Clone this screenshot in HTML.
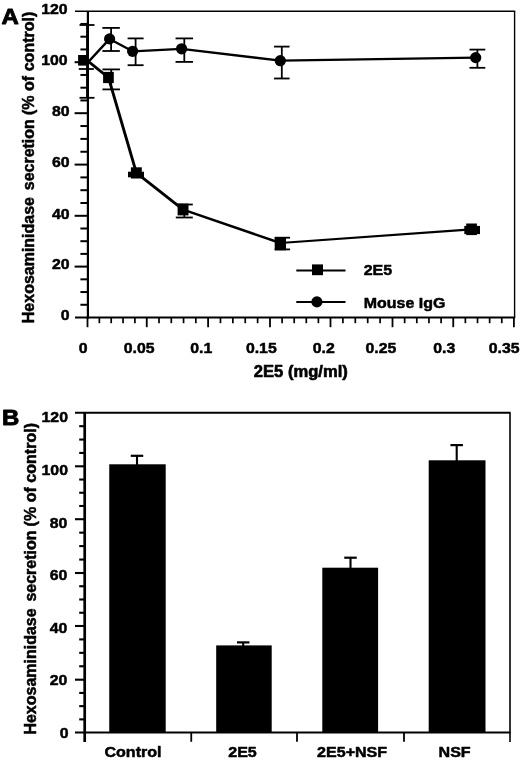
<!DOCTYPE html>
<html lang="en"><head><meta charset="utf-8"><title>Figure</title>
<style>
html,body{margin:0;padding:0;background:#fff;}
body{width:520px;height:760px;overflow:hidden;}
svg{display:block;filter:grayscale(1);}
text{font-family:"Liberation Sans",sans-serif;font-weight:bold;fill:#000;}
</style></head><body>
<svg width="520" height="760" viewBox="0 0 520 760">
<rect width="520" height="760" fill="#fff"/>
<g id="panelA">
<line x1="75.00" y1="11.20" x2="515.20" y2="11.20" stroke="#000" stroke-width="1.4" stroke-linecap="butt"/>
<line x1="514.60" y1="11.20" x2="514.60" y2="317.50" stroke="#000" stroke-width="1.4" stroke-linecap="butt"/>
<line x1="87.90" y1="11.20" x2="87.90" y2="318.40" stroke="#000" stroke-width="2.2" stroke-linecap="butt"/>
<line x1="75.00" y1="317.50" x2="515.20" y2="317.50" stroke="#000" stroke-width="1.9" stroke-linecap="butt"/>
<line x1="80.40" y1="304.77" x2="87.90" y2="304.77" stroke="#000" stroke-width="2.0" stroke-linecap="butt"/>
<line x1="80.40" y1="292.05" x2="87.90" y2="292.05" stroke="#000" stroke-width="2.0" stroke-linecap="butt"/>
<line x1="80.40" y1="279.33" x2="87.90" y2="279.33" stroke="#000" stroke-width="2.0" stroke-linecap="butt"/>
<line x1="74.60" y1="266.60" x2="87.90" y2="266.60" stroke="#000" stroke-width="2.0" stroke-linecap="butt"/>
<line x1="80.40" y1="253.90" x2="87.90" y2="253.90" stroke="#000" stroke-width="2.0" stroke-linecap="butt"/>
<line x1="80.40" y1="241.20" x2="87.90" y2="241.20" stroke="#000" stroke-width="2.0" stroke-linecap="butt"/>
<line x1="80.40" y1="228.50" x2="87.90" y2="228.50" stroke="#000" stroke-width="2.0" stroke-linecap="butt"/>
<line x1="74.60" y1="215.80" x2="87.90" y2="215.80" stroke="#000" stroke-width="2.0" stroke-linecap="butt"/>
<line x1="80.40" y1="203.00" x2="87.90" y2="203.00" stroke="#000" stroke-width="2.0" stroke-linecap="butt"/>
<line x1="80.40" y1="190.20" x2="87.90" y2="190.20" stroke="#000" stroke-width="2.0" stroke-linecap="butt"/>
<line x1="80.40" y1="177.40" x2="87.90" y2="177.40" stroke="#000" stroke-width="2.0" stroke-linecap="butt"/>
<line x1="74.60" y1="164.60" x2="87.90" y2="164.60" stroke="#000" stroke-width="2.0" stroke-linecap="butt"/>
<line x1="80.40" y1="151.75" x2="87.90" y2="151.75" stroke="#000" stroke-width="2.0" stroke-linecap="butt"/>
<line x1="80.40" y1="138.90" x2="87.90" y2="138.90" stroke="#000" stroke-width="2.0" stroke-linecap="butt"/>
<line x1="80.40" y1="126.05" x2="87.90" y2="126.05" stroke="#000" stroke-width="2.0" stroke-linecap="butt"/>
<line x1="74.60" y1="113.20" x2="87.90" y2="113.20" stroke="#000" stroke-width="2.0" stroke-linecap="butt"/>
<line x1="80.40" y1="100.45" x2="87.90" y2="100.45" stroke="#000" stroke-width="2.0" stroke-linecap="butt"/>
<line x1="80.40" y1="87.70" x2="87.90" y2="87.70" stroke="#000" stroke-width="2.0" stroke-linecap="butt"/>
<line x1="80.40" y1="74.95" x2="87.90" y2="74.95" stroke="#000" stroke-width="2.0" stroke-linecap="butt"/>
<line x1="74.60" y1="62.20" x2="87.90" y2="62.20" stroke="#000" stroke-width="2.0" stroke-linecap="butt"/>
<line x1="80.40" y1="49.45" x2="87.90" y2="49.45" stroke="#000" stroke-width="2.0" stroke-linecap="butt"/>
<line x1="80.40" y1="36.70" x2="87.90" y2="36.70" stroke="#000" stroke-width="2.0" stroke-linecap="butt"/>
<line x1="80.40" y1="23.95" x2="87.90" y2="23.95" stroke="#000" stroke-width="2.0" stroke-linecap="butt"/>
<line x1="87.50" y1="317.50" x2="87.50" y2="327.20" stroke="#000" stroke-width="1.8" stroke-linecap="butt"/>
<line x1="99.35" y1="317.50" x2="99.35" y2="323.20" stroke="#000" stroke-width="1.7" stroke-linecap="butt"/>
<line x1="111.20" y1="317.50" x2="111.20" y2="323.20" stroke="#000" stroke-width="1.7" stroke-linecap="butt"/>
<line x1="123.05" y1="317.50" x2="123.05" y2="323.20" stroke="#000" stroke-width="1.7" stroke-linecap="butt"/>
<line x1="134.90" y1="317.50" x2="134.90" y2="323.20" stroke="#000" stroke-width="1.7" stroke-linecap="butt"/>
<line x1="146.75" y1="317.50" x2="146.75" y2="327.20" stroke="#000" stroke-width="1.8" stroke-linecap="butt"/>
<line x1="159.02" y1="317.50" x2="159.02" y2="323.20" stroke="#000" stroke-width="1.7" stroke-linecap="butt"/>
<line x1="171.29" y1="317.50" x2="171.29" y2="323.20" stroke="#000" stroke-width="1.7" stroke-linecap="butt"/>
<line x1="183.56" y1="317.50" x2="183.56" y2="323.20" stroke="#000" stroke-width="1.7" stroke-linecap="butt"/>
<line x1="195.83" y1="317.50" x2="195.83" y2="323.20" stroke="#000" stroke-width="1.7" stroke-linecap="butt"/>
<line x1="208.10" y1="317.50" x2="208.10" y2="327.20" stroke="#000" stroke-width="1.8" stroke-linecap="butt"/>
<line x1="220.48" y1="317.50" x2="220.48" y2="323.20" stroke="#000" stroke-width="1.7" stroke-linecap="butt"/>
<line x1="232.86" y1="317.50" x2="232.86" y2="323.20" stroke="#000" stroke-width="1.7" stroke-linecap="butt"/>
<line x1="245.24" y1="317.50" x2="245.24" y2="323.20" stroke="#000" stroke-width="1.7" stroke-linecap="butt"/>
<line x1="257.62" y1="317.50" x2="257.62" y2="323.20" stroke="#000" stroke-width="1.7" stroke-linecap="butt"/>
<line x1="270.00" y1="317.50" x2="270.00" y2="327.20" stroke="#000" stroke-width="1.8" stroke-linecap="butt"/>
<line x1="282.10" y1="317.50" x2="282.10" y2="323.20" stroke="#000" stroke-width="1.7" stroke-linecap="butt"/>
<line x1="294.20" y1="317.50" x2="294.20" y2="323.20" stroke="#000" stroke-width="1.7" stroke-linecap="butt"/>
<line x1="306.30" y1="317.50" x2="306.30" y2="323.20" stroke="#000" stroke-width="1.7" stroke-linecap="butt"/>
<line x1="318.40" y1="317.50" x2="318.40" y2="323.20" stroke="#000" stroke-width="1.7" stroke-linecap="butt"/>
<line x1="330.50" y1="317.50" x2="330.50" y2="327.20" stroke="#000" stroke-width="1.8" stroke-linecap="butt"/>
<line x1="342.90" y1="317.50" x2="342.90" y2="323.20" stroke="#000" stroke-width="1.7" stroke-linecap="butt"/>
<line x1="355.30" y1="317.50" x2="355.30" y2="323.20" stroke="#000" stroke-width="1.7" stroke-linecap="butt"/>
<line x1="367.70" y1="317.50" x2="367.70" y2="323.20" stroke="#000" stroke-width="1.7" stroke-linecap="butt"/>
<line x1="380.10" y1="317.50" x2="380.10" y2="323.20" stroke="#000" stroke-width="1.7" stroke-linecap="butt"/>
<line x1="392.50" y1="317.50" x2="392.50" y2="327.20" stroke="#000" stroke-width="1.8" stroke-linecap="butt"/>
<line x1="404.65" y1="317.50" x2="404.65" y2="323.20" stroke="#000" stroke-width="1.7" stroke-linecap="butt"/>
<line x1="416.80" y1="317.50" x2="416.80" y2="323.20" stroke="#000" stroke-width="1.7" stroke-linecap="butt"/>
<line x1="428.95" y1="317.50" x2="428.95" y2="323.20" stroke="#000" stroke-width="1.7" stroke-linecap="butt"/>
<line x1="441.10" y1="317.50" x2="441.10" y2="323.20" stroke="#000" stroke-width="1.7" stroke-linecap="butt"/>
<line x1="453.25" y1="317.50" x2="453.25" y2="327.20" stroke="#000" stroke-width="1.8" stroke-linecap="butt"/>
<line x1="465.38" y1="317.50" x2="465.38" y2="323.20" stroke="#000" stroke-width="1.7" stroke-linecap="butt"/>
<line x1="477.51" y1="317.50" x2="477.51" y2="323.20" stroke="#000" stroke-width="1.7" stroke-linecap="butt"/>
<line x1="489.64" y1="317.50" x2="489.64" y2="323.20" stroke="#000" stroke-width="1.7" stroke-linecap="butt"/>
<line x1="501.77" y1="317.50" x2="501.77" y2="323.20" stroke="#000" stroke-width="1.7" stroke-linecap="butt"/>
<line x1="513.90" y1="317.50" x2="513.90" y2="327.20" stroke="#000" stroke-width="1.8" stroke-linecap="butt"/>
<text transform="translate(69.70,320.20) scale(1.03,1)" font-size="15.4" text-anchor="end" stroke="#000" stroke-width="0.5" stroke-linejoin="round">0</text>
<text transform="translate(69.70,269.30) scale(1.03,1)" font-size="15.4" text-anchor="end" stroke="#000" stroke-width="0.5" stroke-linejoin="round">20</text>
<text transform="translate(69.70,218.50) scale(1.03,1)" font-size="15.4" text-anchor="end" stroke="#000" stroke-width="0.5" stroke-linejoin="round">40</text>
<text transform="translate(69.70,167.30) scale(1.03,1)" font-size="15.4" text-anchor="end" stroke="#000" stroke-width="0.5" stroke-linejoin="round">60</text>
<text transform="translate(69.70,115.90) scale(1.03,1)" font-size="15.4" text-anchor="end" stroke="#000" stroke-width="0.5" stroke-linejoin="round">80</text>
<text transform="translate(67.70,64.90) scale(1.03,1)" font-size="15.4" text-anchor="end" stroke="#000" stroke-width="0.5" stroke-linejoin="round">100</text>
<text transform="translate(67.70,13.90) scale(1.03,1)" font-size="15.4" text-anchor="end" stroke="#000" stroke-width="0.5" stroke-linejoin="round">120</text>
<text transform="translate(83.05,353.40) scale(1.03,1)" font-size="15.4" text-anchor="middle" stroke="#000" stroke-width="0.5" stroke-linejoin="round">0</text>
<text transform="translate(139.20,353.40) scale(1.03,1)" font-size="15.4" text-anchor="middle" stroke="#000" stroke-width="0.5" stroke-linejoin="round">0.05</text>
<text transform="translate(201.32,353.40) scale(1.03,1)" font-size="15.4" text-anchor="middle" stroke="#000" stroke-width="0.5" stroke-linejoin="round">0.1</text>
<text transform="translate(261.32,353.40) scale(1.03,1)" font-size="15.4" text-anchor="middle" stroke="#000" stroke-width="0.5" stroke-linejoin="round">0.15</text>
<text transform="translate(323.70,353.40) scale(1.03,1)" font-size="15.4" text-anchor="middle" stroke="#000" stroke-width="0.5" stroke-linejoin="round">0.2</text>
<text transform="translate(380.95,353.40) scale(1.03,1)" font-size="15.4" text-anchor="middle" stroke="#000" stroke-width="0.5" stroke-linejoin="round">0.25</text>
<text transform="translate(444.32,353.40) scale(1.03,1)" font-size="15.4" text-anchor="middle" stroke="#000" stroke-width="0.5" stroke-linejoin="round">0.3</text>
<text transform="translate(504.20,353.40) scale(1.03,1)" font-size="15.4" text-anchor="middle" stroke="#000" stroke-width="0.5" stroke-linejoin="round">0.35</text>
<text transform="translate(300.80,377.30) scale(1.05,1)" font-size="15.8" text-anchor="middle" stroke="#000" stroke-width="0.6" stroke-linejoin="round">2E5 (mg/ml)</text>
<text transform="translate(33.7,323.20) rotate(-90)" font-size="16.1" stroke="#000" stroke-width="0.5" stroke-linejoin="round" textLength="126.2" lengthAdjust="spacingAndGlyphs">Hexosaminidase</text>
<text transform="translate(33.7,190.20) rotate(-90)" font-size="16.1" stroke="#000" stroke-width="0.5" stroke-linejoin="round" textLength="71.0" lengthAdjust="spacingAndGlyphs">secretion</text>
<text transform="translate(33.7,115.00) rotate(-90)" font-size="16.1" stroke="#000" stroke-width="0.5" stroke-linejoin="round" textLength="103.4" lengthAdjust="spacingAndGlyphs">(% of control)</text>
<text transform="translate(1.60,23.60) scale(1.07,1)" font-size="22.4" text-anchor="start" stroke="#000" stroke-width="0.9" stroke-linejoin="round">A</text>
<line x1="87.00" y1="25.00" x2="87.00" y2="97.80" stroke="#000" stroke-width="1.8" stroke-linecap="butt"/>
<line x1="79.50" y1="25.00" x2="94.50" y2="25.00" stroke="#000" stroke-width="1.8" stroke-linecap="butt"/>
<line x1="79.50" y1="97.80" x2="94.50" y2="97.80" stroke="#000" stroke-width="1.8" stroke-linecap="butt"/>
<line x1="78.80" y1="69.00" x2="93.80" y2="69.00" stroke="#000" stroke-width="1.8" stroke-linecap="butt"/>
<line x1="111.10" y1="27.90" x2="111.10" y2="51.00" stroke="#000" stroke-width="1.8" stroke-linecap="butt"/>
<line x1="102.35" y1="27.90" x2="119.85" y2="27.90" stroke="#000" stroke-width="1.8" stroke-linecap="butt"/>
<line x1="102.35" y1="51.00" x2="119.85" y2="51.00" stroke="#000" stroke-width="1.8" stroke-linecap="butt"/>
<line x1="135.60" y1="38.40" x2="135.60" y2="65.20" stroke="#000" stroke-width="1.8" stroke-linecap="butt"/>
<line x1="127.60" y1="38.40" x2="143.60" y2="38.40" stroke="#000" stroke-width="1.8" stroke-linecap="butt"/>
<line x1="127.60" y1="65.20" x2="143.60" y2="65.20" stroke="#000" stroke-width="1.8" stroke-linecap="butt"/>
<line x1="184.30" y1="38.40" x2="184.30" y2="61.90" stroke="#000" stroke-width="1.8" stroke-linecap="butt"/>
<line x1="175.55" y1="38.40" x2="193.05" y2="38.40" stroke="#000" stroke-width="1.8" stroke-linecap="butt"/>
<line x1="175.55" y1="61.90" x2="193.05" y2="61.90" stroke="#000" stroke-width="1.8" stroke-linecap="butt"/>
<line x1="281.80" y1="46.60" x2="281.80" y2="78.50" stroke="#000" stroke-width="1.8" stroke-linecap="butt"/>
<line x1="274.05" y1="46.60" x2="289.55" y2="46.60" stroke="#000" stroke-width="1.8" stroke-linecap="butt"/>
<line x1="274.05" y1="78.50" x2="289.55" y2="78.50" stroke="#000" stroke-width="1.8" stroke-linecap="butt"/>
<line x1="477.40" y1="49.60" x2="477.40" y2="67.80" stroke="#000" stroke-width="1.8" stroke-linecap="butt"/>
<line x1="469.50" y1="49.60" x2="485.30" y2="49.60" stroke="#000" stroke-width="1.8" stroke-linecap="butt"/>
<line x1="469.50" y1="67.80" x2="485.30" y2="67.80" stroke="#000" stroke-width="1.8" stroke-linecap="butt"/>
<line x1="111.20" y1="69.40" x2="111.20" y2="89.40" stroke="#000" stroke-width="1.8" stroke-linecap="butt"/>
<line x1="102.45" y1="69.40" x2="119.95" y2="69.40" stroke="#000" stroke-width="1.8" stroke-linecap="butt"/>
<line x1="102.45" y1="89.40" x2="119.95" y2="89.40" stroke="#000" stroke-width="1.8" stroke-linecap="butt"/>
<rect x="128" y="171.7" width="16" height="5.6" fill="#000"/>
<line x1="184.30" y1="204.50" x2="184.30" y2="217.50" stroke="#000" stroke-width="1.8" stroke-linecap="butt"/>
<line x1="175.80" y1="204.50" x2="192.80" y2="204.50" stroke="#000" stroke-width="1.8" stroke-linecap="butt"/>
<line x1="175.80" y1="217.50" x2="192.80" y2="217.50" stroke="#000" stroke-width="1.8" stroke-linecap="butt"/>
<line x1="282.40" y1="237.70" x2="282.40" y2="249.40" stroke="#000" stroke-width="1.8" stroke-linecap="butt"/>
<line x1="274.70" y1="237.70" x2="290.10" y2="237.70" stroke="#000" stroke-width="1.8" stroke-linecap="butt"/>
<line x1="274.70" y1="249.40" x2="290.10" y2="249.40" stroke="#000" stroke-width="1.8" stroke-linecap="butt"/>
<polyline fill="none" stroke="#000" stroke-width="2.3" stroke-linejoin="round" points="88.6,61.6 109.6,38.9 132.6,51.3 181.6,48.8 280.3,60.7 475.7,57.6"/>
<polyline fill="none" stroke="#000" stroke-width="2.7" stroke-linejoin="round" points="88.6,61.6 108.5,77.6"/>
<polyline fill="none" stroke="#000" stroke-width="2.9" stroke-linejoin="round" points="108.5,77.6 136.4,172.9"/>
<polyline fill="none" stroke="#000" stroke-width="2.8" stroke-linejoin="round" points="136.4,172.9 183.1,209.6"/>
<polyline fill="none" stroke="#000" stroke-width="2.4" stroke-linejoin="round" points="183.1,209.6 280.4,243.0"/>
<polyline fill="none" stroke="#000" stroke-width="2.1" stroke-linejoin="round" points="280.4,243.0 471.5,229.4"/>
<circle cx="109.6" cy="38.9" r="5.6" fill="#000"/>
<circle cx="132.6" cy="51.3" r="5.6" fill="#000"/>
<circle cx="181.6" cy="48.8" r="5.6" fill="#000"/>
<circle cx="280.3" cy="60.7" r="5.6" fill="#000"/>
<circle cx="475.7" cy="57.6" r="5.6" fill="#000"/>
<rect x="78.1" y="55.0" width="10.7" height="10.6" fill="#000"/>
<rect x="103.1" y="71.9" width="10.7" height="11.2" fill="#000"/>
<rect x="130.9" y="167.3" width="10.9" height="11.2" fill="#000"/>
<rect x="177.6" y="203.6" width="10.9" height="11.8" fill="#000"/>
<rect x="274.7" y="237.0" width="11.3" height="13.3" fill="#000"/>
<rect x="466.2" y="223.5" width="10.7" height="11.6" fill="#000"/>
<rect x="464.3" y="225.9" width="15.7" height="8.2" fill="#000"/>
<line x1="296.30" y1="270.40" x2="345.50" y2="270.40" stroke="#000" stroke-width="2.0" stroke-linecap="butt"/>
<rect x="312" y="264.4" width="11" height="10.8" fill="#000"/>
<line x1="296.30" y1="302.00" x2="345.50" y2="302.00" stroke="#000" stroke-width="2.0" stroke-linecap="butt"/>
<circle cx="316.9" cy="301.9" r="5.6" fill="#000"/>
<text transform="translate(363.70,275.10) scale(1.04,1)" font-size="15.4" text-anchor="start" stroke="#000" stroke-width="0.5" stroke-linejoin="round">2E5</text>
<text transform="translate(363.80,307.50) scale(1.05,1)" font-size="15.2" text-anchor="start" stroke="#000" stroke-width="0.5" stroke-linejoin="round">Mouse IgG</text>
</g>
<g id="panelB">
<line x1="75.00" y1="412.80" x2="510.60" y2="412.80" stroke="#000" stroke-width="1.9" stroke-linecap="butt"/>
<line x1="510.00" y1="412.80" x2="510.00" y2="742.00" stroke="#000" stroke-width="1.6" stroke-linecap="butt"/>
<line x1="84.70" y1="412.80" x2="84.70" y2="742.00" stroke="#000" stroke-width="2.7" stroke-linecap="butt"/>
<line x1="75.00" y1="732.50" x2="510.60" y2="732.50" stroke="#000" stroke-width="2.0" stroke-linecap="butt"/>
<line x1="79.20" y1="719.38" x2="84.70" y2="719.38" stroke="#000" stroke-width="2.1" stroke-linecap="butt"/>
<line x1="79.20" y1="706.15" x2="84.70" y2="706.15" stroke="#000" stroke-width="2.1" stroke-linecap="butt"/>
<line x1="79.20" y1="692.93" x2="84.70" y2="692.93" stroke="#000" stroke-width="2.1" stroke-linecap="butt"/>
<line x1="75.00" y1="679.70" x2="84.70" y2="679.70" stroke="#000" stroke-width="2.1" stroke-linecap="butt"/>
<line x1="79.20" y1="666.28" x2="84.70" y2="666.28" stroke="#000" stroke-width="2.1" stroke-linecap="butt"/>
<line x1="79.20" y1="652.85" x2="84.70" y2="652.85" stroke="#000" stroke-width="2.1" stroke-linecap="butt"/>
<line x1="79.20" y1="639.42" x2="84.70" y2="639.42" stroke="#000" stroke-width="2.1" stroke-linecap="butt"/>
<line x1="75.00" y1="626.00" x2="84.70" y2="626.00" stroke="#000" stroke-width="2.1" stroke-linecap="butt"/>
<line x1="79.20" y1="612.75" x2="84.70" y2="612.75" stroke="#000" stroke-width="2.1" stroke-linecap="butt"/>
<line x1="79.20" y1="599.50" x2="84.70" y2="599.50" stroke="#000" stroke-width="2.1" stroke-linecap="butt"/>
<line x1="79.20" y1="586.25" x2="84.70" y2="586.25" stroke="#000" stroke-width="2.1" stroke-linecap="butt"/>
<line x1="75.00" y1="573.00" x2="84.70" y2="573.00" stroke="#000" stroke-width="2.1" stroke-linecap="butt"/>
<line x1="79.20" y1="559.55" x2="84.70" y2="559.55" stroke="#000" stroke-width="2.1" stroke-linecap="butt"/>
<line x1="79.20" y1="546.10" x2="84.70" y2="546.10" stroke="#000" stroke-width="2.1" stroke-linecap="butt"/>
<line x1="79.20" y1="532.65" x2="84.70" y2="532.65" stroke="#000" stroke-width="2.1" stroke-linecap="butt"/>
<line x1="75.00" y1="519.20" x2="84.70" y2="519.20" stroke="#000" stroke-width="2.1" stroke-linecap="butt"/>
<line x1="79.20" y1="505.98" x2="84.70" y2="505.98" stroke="#000" stroke-width="2.1" stroke-linecap="butt"/>
<line x1="79.20" y1="492.75" x2="84.70" y2="492.75" stroke="#000" stroke-width="2.1" stroke-linecap="butt"/>
<line x1="79.20" y1="479.53" x2="84.70" y2="479.53" stroke="#000" stroke-width="2.1" stroke-linecap="butt"/>
<line x1="75.00" y1="466.30" x2="84.70" y2="466.30" stroke="#000" stroke-width="2.1" stroke-linecap="butt"/>
<line x1="79.20" y1="452.93" x2="84.70" y2="452.93" stroke="#000" stroke-width="2.1" stroke-linecap="butt"/>
<line x1="79.20" y1="439.55" x2="84.70" y2="439.55" stroke="#000" stroke-width="2.1" stroke-linecap="butt"/>
<line x1="79.20" y1="426.18" x2="84.70" y2="426.18" stroke="#000" stroke-width="2.1" stroke-linecap="butt"/>
<line x1="191.25" y1="732.50" x2="191.25" y2="741.80" stroke="#000" stroke-width="1.8" stroke-linecap="butt"/>
<line x1="297.00" y1="732.50" x2="297.00" y2="741.80" stroke="#000" stroke-width="1.8" stroke-linecap="butt"/>
<line x1="404.00" y1="732.50" x2="404.00" y2="741.80" stroke="#000" stroke-width="1.8" stroke-linecap="butt"/>
<text transform="translate(68.00,422.10) scale(1.03,1)" font-size="15.4" text-anchor="end" stroke="#000" stroke-width="0.5" stroke-linejoin="round">120</text>
<text transform="translate(68.00,475.10) scale(1.03,1)" font-size="15.4" text-anchor="end" stroke="#000" stroke-width="0.5" stroke-linejoin="round">100</text>
<text transform="translate(67.40,527.50) scale(1.03,1)" font-size="15.4" text-anchor="end" stroke="#000" stroke-width="0.5" stroke-linejoin="round">80</text>
<text transform="translate(67.40,580.10) scale(1.03,1)" font-size="15.4" text-anchor="end" stroke="#000" stroke-width="0.5" stroke-linejoin="round">60</text>
<text transform="translate(67.40,632.70) scale(1.03,1)" font-size="15.4" text-anchor="end" stroke="#000" stroke-width="0.5" stroke-linejoin="round">40</text>
<text transform="translate(67.40,684.60) scale(1.03,1)" font-size="15.4" text-anchor="end" stroke="#000" stroke-width="0.5" stroke-linejoin="round">20</text>
<text transform="translate(68.50,738.30) scale(1.03,1)" font-size="15.4" text-anchor="end" stroke="#000" stroke-width="0.5" stroke-linejoin="round">0</text>
<rect x="109.25" y="464.3" width="56.45" height="268.20" fill="#000"/>
<rect x="216.2" y="645.4" width="55.50" height="87.10" fill="#000"/>
<rect x="322.3" y="567.7" width="55.80" height="164.80" fill="#000"/>
<rect x="428.7" y="460.3" width="56.80" height="272.20" fill="#000"/>
<line x1="137.00" y1="455.80" x2="137.00" y2="465.30" stroke="#000" stroke-width="2.1" stroke-linecap="butt"/>
<line x1="130.75" y1="455.80" x2="143.25" y2="455.80" stroke="#000" stroke-width="2.2" stroke-linecap="butt"/>
<line x1="243.20" y1="642.40" x2="243.20" y2="646.40" stroke="#000" stroke-width="2.1" stroke-linecap="butt"/>
<line x1="236.95" y1="642.40" x2="249.45" y2="642.40" stroke="#000" stroke-width="2.2" stroke-linecap="butt"/>
<line x1="350.50" y1="557.70" x2="350.50" y2="568.70" stroke="#000" stroke-width="2.1" stroke-linecap="butt"/>
<line x1="344.25" y1="557.70" x2="356.75" y2="557.70" stroke="#000" stroke-width="2.2" stroke-linecap="butt"/>
<line x1="456.70" y1="445.10" x2="456.70" y2="461.30" stroke="#000" stroke-width="2.1" stroke-linecap="butt"/>
<line x1="450.45" y1="445.10" x2="462.95" y2="445.10" stroke="#000" stroke-width="2.2" stroke-linecap="butt"/>
<text transform="translate(133.00,756.70) scale(1.05,1)" font-size="15.3" text-anchor="middle" stroke="#000" stroke-width="0.5" stroke-linejoin="round">Control</text>
<text transform="translate(242.50,756.70) scale(1.05,1)" font-size="15.3" text-anchor="middle" stroke="#000" stroke-width="0.5" stroke-linejoin="round">2E5</text>
<text transform="translate(352.10,756.70) scale(1.05,1)" font-size="15.3" text-anchor="middle" stroke="#000" stroke-width="0.5" stroke-linejoin="round">2E5+NSF</text>
<text transform="translate(454.60,756.70) scale(1.05,1)" font-size="15.3" text-anchor="middle" stroke="#000" stroke-width="0.5" stroke-linejoin="round">NSF</text>
<text transform="translate(35.6,734.60) rotate(-90)" font-size="16.1" stroke="#000" stroke-width="0.5" stroke-linejoin="round" textLength="126.2" lengthAdjust="spacingAndGlyphs">Hexosaminidase</text>
<text transform="translate(35.6,601.60) rotate(-90)" font-size="16.1" stroke="#000" stroke-width="0.5" stroke-linejoin="round" textLength="71.0" lengthAdjust="spacingAndGlyphs">secretion</text>
<text transform="translate(35.6,526.40) rotate(-90)" font-size="16.1" stroke="#000" stroke-width="0.5" stroke-linejoin="round" textLength="103.4" lengthAdjust="spacingAndGlyphs">(% of control)</text>
<text transform="translate(1.90,425.40) scale(1.07,1)" font-size="22.4" text-anchor="start" stroke="#000" stroke-width="0.9" stroke-linejoin="round">B</text>
</g>
</svg>
</body></html>
